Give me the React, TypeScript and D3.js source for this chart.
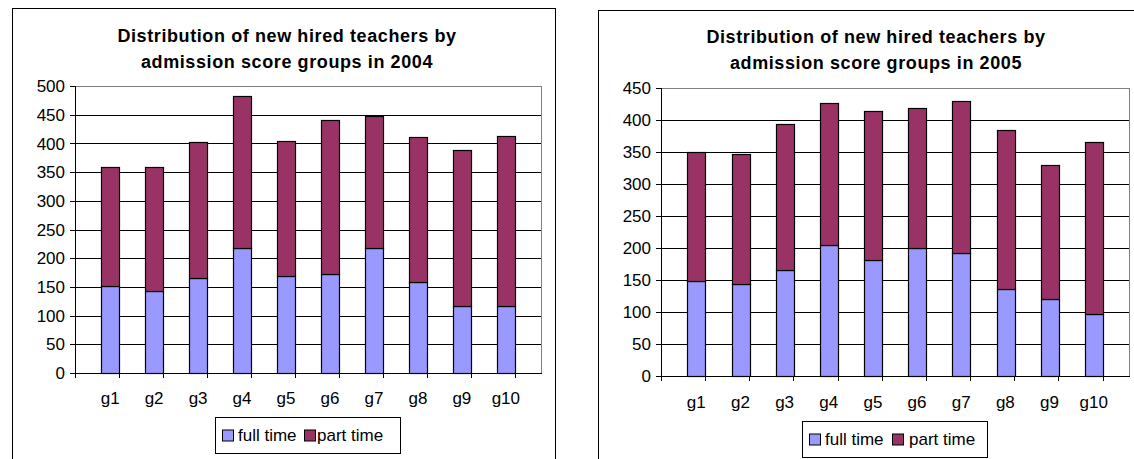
import React from "react";
import * as d3 from "d3";

const categories = ["g1", "g2", "g3", "g4", "g5", "g6", "g7", "g8", "g9", "g10"];
const fullTime2004 = [152, 143, 166, 218, 169, 172, 218, 158, 117, 117];
const partTime2004 = [207, 216, 236, 264, 236, 268, 230, 253, 271, 296];
const fullTime2005 = [148, 143, 166, 205, 182, 200, 192, 136, 120, 97];
const partTime2005 = [202, 204, 227, 222, 232, 219, 237, 249, 209, 268];
const yTicks2004 = [0, 50, 100, 150, 200, 250, 300, 350, 400, 450, 500];
const yTicks2005 = [0, 50, 100, 150, 200, 250, 300, 350, 400, 450];
const seriesNames = ["full time", "part time"];
const colors = ["#9999FF", "#993366"];

const FONT = "'Liberation Sans', Arial, sans-serif";

type ChartProps = {
  title: string[];
  full: number[];
  part: number[];
  ticks: number[];
  frame: { x: number; y: number; w: number; h: number };
  plot: { x0: number; x1: number; top: number; bottom: number };
  titleCx: number;
  titleY: number[];
  labelY: number;
  legend: { x: number; y: number; w: number; h: number; sq: number[]; tx: number[] };
};

function Chart(p: ChartProps) {
  const x = d3.scaleBand<string>().domain(categories).range([p.plot.x0, p.plot.x1]).padding(0.6);
  const maxV = p.ticks[p.ticks.length - 1];
  const y = d3.scaleLinear().domain([0, maxV]).range([p.plot.bottom, p.plot.top]);
  const stackData = categories.map((c, i) => ({ c, full: p.full[i], part: p.part[i] }));
  const stack = d3.stack<any>().keys(["full", "part"])(stackData);
  const step = x.step();
  const bounds = d3.range(categories.length + 1).map((i) => p.plot.x0 + i * step);
  return (
    <g>
      <rect x={p.frame.x + 0.5} y={p.frame.y + 0.5} width={p.frame.w} height={p.frame.h} fill="#fff" stroke="#000" strokeWidth={1} />
      {p.title.map((t, i) => (
        <text key={i} x={p.titleCx} y={p.titleY[i]} textAnchor="middle" fontFamily={FONT} fontWeight="bold" fontSize={18} letterSpacing={0.6} fill="#000">
          {t}
        </text>
      ))}
      {/* grid */}
      {p.ticks.slice(1).map((t) => (
        <line key={t} x1={p.plot.x0} x2={p.plot.x1} y1={Math.round(y(t)) + 0.5} y2={Math.round(y(t)) + 0.5} stroke={t === maxV ? "#808080" : "#000"} strokeWidth={1} />
      ))}
      <line x1={p.plot.x1 + 0.5} x2={p.plot.x1 + 0.5} y1={p.plot.top} y2={p.plot.bottom} stroke="#808080" strokeWidth={1} />
      {/* bars */}
      {stack.map((s, si) =>
        s.map((d, i) => (
          <rect
            key={si + "-" + i}
            x={Math.round(x(categories[i])!) + 0.5}
            y={Math.round(y(d[1])) + 0.5}
            width={Math.round(x.bandwidth())}
            height={Math.round(y(d[0])) - Math.round(y(d[1]))}
            fill={colors[si]}
            stroke="#000"
            strokeWidth={1.2}
          />
        ))
      )}
      {/* axes */}
      <line x1={Math.round(p.plot.x0) + 0.5} x2={Math.round(p.plot.x0) + 0.5} y1={p.plot.top} y2={p.plot.bottom + 0.5} stroke="#000" strokeWidth={1} />
      <line x1={p.plot.x0 - 5} x2={p.plot.x1 + 1} y1={Math.round(p.plot.bottom) + 0.5} y2={Math.round(p.plot.bottom) + 0.5} stroke="#000" strokeWidth={1} />
      {p.ticks.map((t) => (
        <g key={t}>
          <line x1={p.plot.x0 - 5} x2={p.plot.x0} y1={Math.round(y(t)) + 0.5} y2={Math.round(y(t)) + 0.5} stroke="#000" />
          <text x={p.plot.x0 - 10} y={y(t)} dy="0.36em" textAnchor="end" fontFamily={FONT} fontSize={17} fill="#000">
            {t}
          </text>
        </g>
      ))}
      {bounds.map((bx, i) => (
        <line key={i} x1={Math.round(bx) + 0.5} x2={Math.round(bx) + 0.5} y1={p.plot.bottom} y2={p.plot.bottom + 5} stroke="#000" />
      ))}
      {categories.map((c) => (
        <text key={c} x={x(c)! + x.bandwidth() / 2} y={p.labelY} textAnchor="middle" fontFamily={FONT} fontSize={17} fill="#000">
          {c}
        </text>
      ))}
      {/* legend */}
      <rect x={p.legend.x + 0.5} y={p.legend.y + 0.5} width={p.legend.w} height={p.legend.h} fill="#fff" stroke="#000" strokeWidth={1} />
      {seriesNames.map((n, i) => (
        <g key={n}>
          <rect x={p.legend.sq[i] + 0.5} y={p.legend.y + p.legend.h / 2 - 5.5 + 0.5} width={11} height={11} fill={colors[i]} stroke="#000" strokeWidth={1} />
          <text x={p.legend.tx[i]} y={p.legend.y + p.legend.h / 2} dy="0.36em" fontFamily={FONT} fontSize={17} fill="#000">
            {n}
          </text>
        </g>
      ))}
    </g>
  );
}

export default function App() {
  return (
    <svg width={1134} height={459} style={{ position: "absolute", left: 0, top: 0, background: "#fff" }}>
      <rect x={0} y={0} width={1134} height={459} fill="#fff" />
      <Chart
        title={["Distribution of new hired teachers by", "admission score groups in 2004"]}
        full={fullTime2004}
        part={partTime2004}
        ticks={yTicks2004}
        frame={{ x: 12, y: 8, w: 543, h: 470 }}
        plot={{ x0: 75, x1: 541, top: 86, bottom: 373 }}
        titleCx={287}
        titleY={[42, 68]}
        labelY={404}
        legend={{ x: 215, y: 417, w: 185, h: 36, sq: [222, 304], tx: [238, 317] }}
      />
      <Chart
        title={["Distribution of new hired teachers by", "admission score groups in 2005"]}
        full={fullTime2005}
        part={partTime2005}
        ticks={yTicks2005}
        frame={{ x: 598, y: 10, w: 560, h: 470 }}
        plot={{ x0: 661, x1: 1129, top: 88, bottom: 376 }}
        titleCx={876}
        titleY={[43, 69]}
        labelY={408}
        legend={{ x: 802, y: 421, w: 185, h: 36, sq: [809, 892], tx: [825, 909] }}
      />
    </svg>
  );
}
